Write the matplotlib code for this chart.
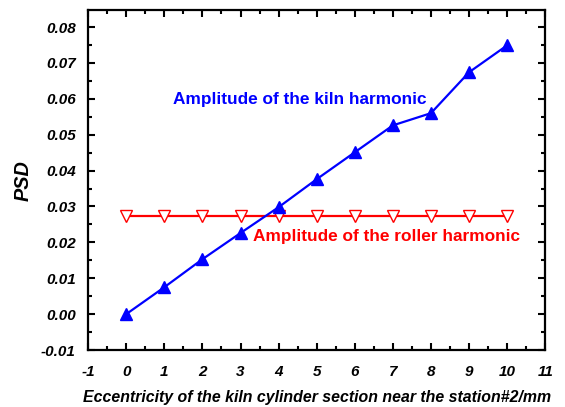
import matplotlib
matplotlib.use("Agg")
import matplotlib.pyplot as plt
from matplotlib.ticker import MultipleLocator

ecc = [0, 1, 2, 3, 4, 5, 6, 7, 8, 9, 10]
kiln = [0.0000, 0.0075, 0.0153, 0.0226, 0.0298, 0.0376, 0.0451, 0.0526, 0.0560, 0.0674, 0.0749]
roller = [0.0273, 0.0273, 0.0273, 0.0273, 0.0273, 0.0273, 0.0273, 0.0273, 0.0273, 0.0273, 0.0273]
xticks = [-1, 0, 1, 2, 3, 4, 5, 6, 7, 8, 9, 10, 11]
yticks = [-0.01, 0.0, 0.01, 0.02, 0.03, 0.04, 0.05, 0.06, 0.07, 0.08]
yticklabels = ['-0.01', '0.00', '0.01', '0.02', '0.03', '0.04', '0.05', '0.06', '0.07', '0.08']

plt.rcParams['font.family'] = ['Liberation Sans', 'DejaVu Sans']
plt.rcParams['axes.unicode_minus'] = False

fig = plt.figure(figsize=(5.65, 4.07), dpi=100)
ax = fig.add_axes([0.156, 0.140, 0.809, 0.835])

ax.plot(ecc, roller, color='red', lw=1.6, marker='v', markersize=8,
        markerfacecolor='white', markeredgecolor='red', markeredgewidth=1.0, zorder=2)
ax.plot(ecc, kiln, color='blue', lw=1.6, marker='^', markersize=9,
        markerfacecolor='blue', markeredgecolor='blue', zorder=3)

ax.set_xlim(-1, 11)
ax.set_ylim(-0.01, 0.0847)
ax.set_xticks(xticks)
ax.set_xticklabels([str(t) for t in xticks])
ax.xaxis.set_minor_locator(MultipleLocator(0.5))
ax.set_yticks(yticks)
ax.set_yticklabels(yticklabels)
ax.yaxis.set_minor_locator(MultipleLocator(0.005))

ax.tick_params(which='both', direction='in', top=True, right=True, width=1.5)
ax.tick_params(which='major', length=5, labelsize=11)
ax.tick_params(axis='x', which='major', pad=11)
ax.tick_params(axis='y', which='major', pad=9)
ax.tick_params(which='minor', length=3)
for s in ax.spines.values():
    s.set_linewidth(1.6)
for lab in ax.get_xticklabels() + ax.get_yticklabels():
    lab.set_fontweight('bold')
    lab.set_fontstyle('italic')

ax.set_xlabel('Eccentricity of the kiln cylinder section near the station#2/mm',
              fontsize=11.4, fontweight='bold', fontstyle='italic', labelpad=8)
ax.set_ylabel('PSD', fontsize=14.3, fontweight='bold', fontstyle='italic', labelpad=6)

ax.text(4.56, 0.0597, 'Amplitude of the kiln harmonic', color='blue',
        fontsize=12.4, fontweight='bold', ha='center', va='center')
ax.text(6.82, 0.0217, 'Amplitude of the roller harmonic', color='red',
        fontsize=12.4, fontweight='bold', ha='center', va='center')

fig.savefig('out.png', dpi=100)
